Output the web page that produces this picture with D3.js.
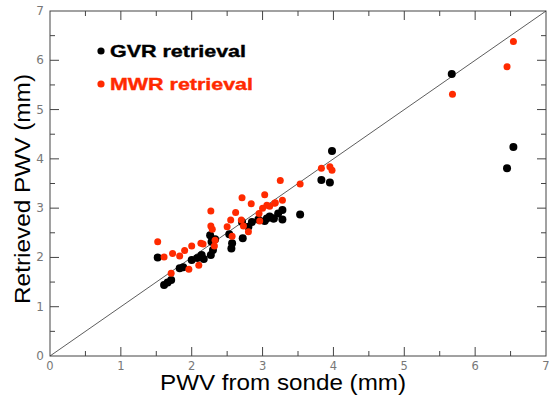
<!DOCTYPE html>
<html><head><meta charset="utf-8">
<script src="https://cdn.jsdelivr.net/npm/d3@7"></script>
<style>html,body{margin:0;padding:0;background:#fff;}svg{display:block;}</style>
</head><body>
<svg id="chart" width="549" height="395"></svg>
<script>
const gvrX = [1.52,1.61,1.66,1.71,1.83,1.88,2.00,2.08,2.14,2.17,2.27,2.30,2.26,2.33,2.28,2.56,2.57,2.53,2.72,2.71,2.80,2.85,2.94,3.03,3.10,3.16,3.22,3.06,3.15,3.28,3.28,3.53,3.83,3.95,3.98,5.67,6.45,6.54];
const gvrY = [2.00,1.44,1.49,1.54,1.78,1.80,1.95,1.99,2.05,1.97,2.05,2.15,2.45,2.37,2.32,2.18,2.29,2.47,2.39,2.72,2.62,2.72,2.77,2.74,2.83,2.79,2.89,2.79,2.79,2.77,2.96,2.87,3.57,3.52,4.16,5.72,3.81,4.24];
const mwrX = [1.52,1.61,1.73,1.83,1.90,2.00,2.13,2.16,2.27,2.27,2.29,2.33,2.32,1.71,1.96,2.10,2.50,2.55,2.62,2.71,2.70,2.73,2.84,2.57,2.80,2.95,3.00,3.03,3.06,3.10,3.17,2.96,3.25,3.28,3.18,3.53,3.83,3.95,3.98,5.68,6.45,6.54];
const mwrY = [2.32,2.01,2.08,2.03,2.14,2.23,2.29,2.27,2.94,2.64,2.57,2.35,2.23,1.68,1.76,1.84,2.62,2.76,2.91,3.21,2.76,2.64,3.09,2.43,2.52,2.89,3.00,3.27,3.06,3.04,3.10,2.74,3.56,3.16,3.11,3.49,3.81,3.84,3.77,5.31,5.87,6.38];
const tickValues = [0,1,2,3,4,5,6,7];
const minorValues = [0.5,1.5,2.5,3.5,4.5,5.5,6.5];
const legendLabels = ["GVR retrieval","MWR retrieval"];
const xTitle = "PWV from sonde (mm)";
const yTitle = "Retrieved PWV (mm)";

const svg = d3.select("#chart");
const L = 50, R = 546, T = 11, B = 356;
const x = d3.scaleLinear().domain([0,7]).range([L,R]);
const y = d3.scaleLinear().domain([0,7]).range([B,T]);
const red = "#ff2a00";
const axisCol = "#444";

svg.append("rect").attr("x",L).attr("y",T).attr("width",R-L).attr("height",B-T)
  .attr("fill","none").attr("stroke",axisCol).attr("stroke-width",1);

const g = svg.append("g").attr("stroke",axisCol).attr("stroke-width",1);
function ticks(vals,len){
  vals.forEach(v=>{
    g.append("line").attr("x1",x(v)).attr("x2",x(v)).attr("y1",B).attr("y2",B-len);
    g.append("line").attr("x1",x(v)).attr("x2",x(v)).attr("y1",T).attr("y2",T+len);
    g.append("line").attr("y1",y(v)).attr("y2",y(v)).attr("x1",L).attr("x2",L+len);
    g.append("line").attr("y1",y(v)).attr("y2",y(v)).attr("x1",R).attr("x2",R-len);
  });
}
ticks(tickValues.slice(1,-1),9);
ticks(minorValues,5);

svg.append("g").selectAll("text").data(tickValues).join("text")
  .attr("x",d=>x(d)).attr("y",B+14).attr("text-anchor","middle")
  .attr("font-family","DejaVu Sans").attr("font-size",11.5).attr("fill","#777")
  .text(d=>d);
svg.append("g").selectAll("text").data(tickValues).join("text")
  .attr("x",L-6).attr("y",d=>y(d)+4).attr("text-anchor","end")
  .attr("font-family","DejaVu Sans").attr("font-size",12).attr("fill","#777")
  .text(d=>d);

svg.append("text").attr("x",283).attr("y",390).attr("text-anchor","middle")
  .attr("font-family","Liberation Sans, Arial").attr("font-size",22).attr("fill","#000")
  .attr("textLength",246).attr("lengthAdjust","spacingAndGlyphs").text(xTitle);
svg.append("text").attr("transform","translate(30,189) rotate(-90)").attr("text-anchor","middle")
  .attr("font-family","Liberation Sans, Arial").attr("font-size",22).attr("fill","#000")
  .attr("textLength",230).attr("lengthAdjust","spacingAndGlyphs").text(yTitle);

svg.append("line").attr("x1",x(0)).attr("y1",y(0)).attr("x2",x(7)).attr("y2",y(7))
  .attr("stroke","#333").attr("stroke-width",0.8);

svg.append("g").selectAll("circle").data(gvrX.map((v,i)=>[v,gvrY[i]])).join("circle")
  .attr("cx",d=>x(d[0])).attr("cy",d=>y(d[1])).attr("r",4).attr("fill","#000");
svg.append("g").selectAll("circle").data(mwrX.map((v,i)=>[v,mwrY[i]])).join("circle")
  .attr("cx",d=>x(d[0])).attr("cy",d=>y(d[1])).attr("r",3.5).attr("fill",red);

const legCols = ["#000", red];
const legLens = [136, 143];
legendLabels.forEach((lab,i)=>{
  const yy = 51 + i*33;
  svg.append("circle").attr("cx",101).attr("cy",yy).attr("r",3.6).attr("fill",legCols[i]);
  svg.append("text").attr("x",110).attr("y",yy+6).attr("font-family","Liberation Sans, Arial")
    .attr("font-weight","bold").attr("font-size",17).attr("fill",legCols[i])
    .attr("stroke",legCols[i]).attr("stroke-width",0.4)
    .attr("textLength",legLens[i]).attr("lengthAdjust","spacingAndGlyphs").text(lab);
});
</script>
</body></html>
